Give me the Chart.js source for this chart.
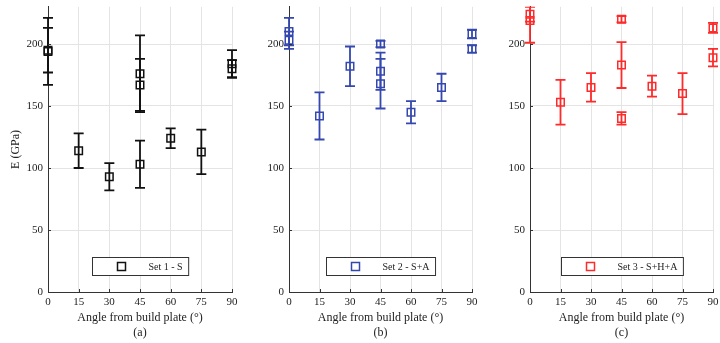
<!DOCTYPE html>
<html>
<head>
<meta charset="utf-8">
<script src="https://cdn.jsdelivr.net/npm/chart.js@4/dist/chart.umd.min.js"></script>
<style>
    body { margin: 0; background: #fff; }
    #wrap { position: relative; width: 720px; height: 343px; }
    canvas { position: absolute; top: 0; }
</style>
</head>
<body>
<div id="wrap">
    <canvas id="panelA" width="240" height="343" style="left:0px"></canvas>
    <canvas id="panelB" width="240" height="343" style="left:240px"></canvas>
    <canvas id="panelC" width="240" height="343" style="left:480px"></canvas>
</div>
<script>
// angle from build plate (deg), E (GPa), +/- error
const angles1 = [0, 0, 15, 30, 45, 45, 45, 60, 75, 90, 90];
const modulus1 = [194, 195, 114, 93, 176, 167, 103, 124, 113, 184, 180];
const error1 = [27, 18, 14, 11, 31, 21, 19, 8, 18, 11, 7];

const angles2 = [0, 0, 15, 30, 45, 45, 45, 60, 75, 90, 90];
const modulus2 = [210, 203, 142, 182, 200, 178, 168, 145, 165, 208, 196];
const error2 = [11, 7, 19, 16, 2.5, 15, 20, 9, 11, 3.5, 3];

const angles3 = [0, 0, 15, 30, 45, 45, 45, 60, 75, 90, 90];
const modulus3 = [224, 219, 153, 165, 220, 183, 140, 166, 160, 213, 189];
const error3 = [6, 18, 18, 11.5, 2.5, 18.5, 5, 8.5, 16.5, 4, 7];

const angleTicks = [0, 15, 30, 45, 60, 75, 90];
const modulusTicks = [0, 50, 100, 150, 200];

const serif = 'Liberation Serif';

const errorBars = {
    id: 'errorBars',
    beforeDatasetsDraw(chart, args, opts){
        const ctx = chart.ctx;
        const xs = chart.scales.x, ys = chart.scales.y;
        const area = chart.chartArea;
        ctx.save();
        ctx.beginPath();
        ctx.rect(0, area.top, chart.width, area.bottom - area.top);
        ctx.clip();
        ctx.strokeStyle = opts.color;
        ctx.lineWidth = 1.8;
        opts.values.forEach((v, i) => {
            const px = xs.getPixelForValue(opts.angles[i]);
            const lo = ys.getPixelForValue(v - opts.errors[i]);
            const hi = ys.getPixelForValue(v + opts.errors[i]);
            ctx.beginPath();
            ctx.moveTo(px, lo); ctx.lineTo(px, hi);
            ctx.moveTo(px - 5, lo); ctx.lineTo(px + 5, lo);
            ctx.moveTo(px - 5, hi); ctx.lineTo(px + 5, hi);
            ctx.stroke();
        });
        ctx.restore();
    },
    afterDraw(chart, args, opts){
        const ctx = chart.ctx;
        const xs = chart.scales.x, ys = chart.scales.y;
        const area = chart.chartArea;
        ctx.save();
        // inward tick marks
        ctx.strokeStyle = '#333';
        ctx.lineWidth = 1;
        ctx.beginPath();
        angleTicks.forEach(t => {
            const px = Math.round(xs.getPixelForValue(t)) + 0.5;
            ctx.moveTo(px, area.bottom); ctx.lineTo(px, area.bottom - 3);
        });
        modulusTicks.forEach(t => {
            const py = Math.round(ys.getPixelForValue(t)) + 0.5;
            ctx.moveTo(area.left, py); ctx.lineTo(area.left + 3, py);
        });
        ctx.stroke();

        // legend box
        ctx.font = '10px "' + serif + '"';
        const tw = ctx.measureText(opts.label).width;
        const bw = 56 + tw + 6;
        const cx = (area.left + area.right) / 2;
        const bx = Math.round(cx - bw / 2) + 0.5;
        const by = area.bottom - 34.5;
        ctx.fillStyle = '#fff';
        ctx.fillRect(bx, by, bw, 18);
        ctx.strokeStyle = '#333';
        ctx.lineWidth = 1;
        ctx.strokeRect(bx, by, bw, 18);
        ctx.strokeStyle = opts.color;
        ctx.lineWidth = 1.5;
        ctx.strokeRect(bx + 25, by + 5, 8, 8);
        ctx.fillStyle = '#222';
        ctx.textBaseline = 'middle';
        ctx.fillText(opts.label, bx + 56, by + 9.5);
        ctx.restore();
    }
};

function makePanel(id, angles, values, errors, color, label, tag, axisWidth, rightPad, showTitle){
    const points = angles.map((a, i) => ({x: a, y: values[i]}));
    return new Chart(document.getElementById(id), {
        type: 'scatter',
        data: {
            datasets: [{
                label: label,
                data: points,
                pointStyle: 'rect',
                pointRadius: 5.3,
                pointBorderWidth: 1.5,
                borderColor: color,
                backgroundColor: 'rgba(0,0,0,0)',
                clip: false
            }]
        },
        options: {
            responsive: false,
            animation: false,
            devicePixelRatio: 1,
            layout: { padding: { top: 5, right: rightPad, left: 0, bottom: 0 } },
            plugins: {
                legend: { display: false },
                tooltip: { enabled: false },
                errorBars: { angles: angles, values: values, errors: errors, color: color, label: label }
            },
            scales: {
                x: {
                    type: 'linear',
                    min: 0,
                    max: 90,
                    afterBuildTicks: s => { s.ticks = angleTicks.map(v => ({value: v})); },
                    afterFit: s => { s.height = 51; s.paddingLeft = 0; s.paddingRight = 0; },
                    ticks: { color: '#222', padding: 4, font: { family: serif, size: 11 } },
                    grid: { color: '#e4e4e4', drawTicks: false },
                    border: { color: '#333', width: 1 },
                    title: {
                        display: true,
                        text: ['Angle from build plate (°)', tag],
                        color: '#222',
                        font: { family: serif, size: 12, lineHeight: 1.25 },
                        padding: { top: 0, bottom: 2.5 }
                    }
                },
                y: {
                    min: 0,
                    max: 230,
                    afterBuildTicks: s => { s.ticks = modulusTicks.map(v => ({value: v})); },
                    afterFit: s => { s.width = axisWidth; s.paddingTop = 0; s.paddingBottom = 0; },
                    ticks: { color: '#222', padding: 5, font: { family: serif, size: 11 } },
                    grid: { color: '#e4e4e4', drawTicks: false },
                    border: { color: '#333', width: 1 },
                    title: {
                        display: showTitle,
                        text: 'E (GPa)',
                        color: '#222',
                        font: { family: serif, size: 12, lineHeight: 1.25 },
                        padding: { top: 8, bottom: 0 }
                    }
                }
            }
        },
        plugins: [errorBars]
    });
}

makePanel('panelA', angles1, modulus1, error1, '#111111', 'Set 1 - S', '(a)', 48, 8, true);
makePanel('panelB', angles2, modulus2, error2, '#3448b0', 'Set 2 - S+A', '(b)', 49, 8, false);
makePanel('panelC', angles3, modulus3, error3, '#ff2a2a', 'Set 3 - S+H+A', '(c)', 50, 7, false);
</script>
</body>
</html>
